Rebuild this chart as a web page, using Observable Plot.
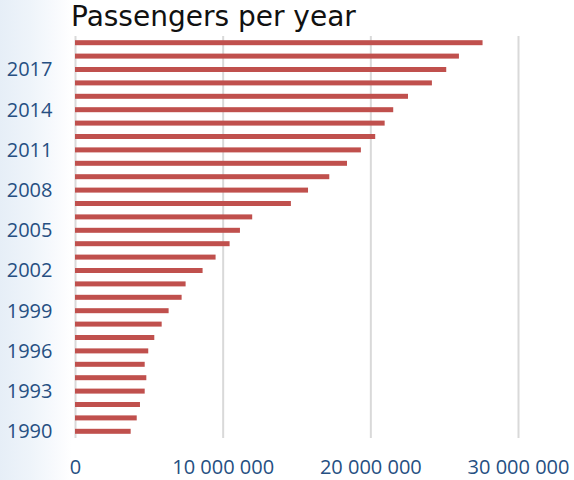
<!DOCTYPE html>
<html><head><meta charset="utf-8">
<script src="https://cdn.jsdelivr.net/npm/d3@7"></script>
<script src="https://cdn.jsdelivr.net/npm/@observablehq/plot@0.6"></script>
<style>
html,body{margin:0;padding:0;width:574px;height:480px;overflow:hidden;
background:linear-gradient(to right,#e6eef7 0px,#eef4fa 30px,#f8fafd 55px,#ffffff 72px);}
#title{height:36px;font-family:"DejaVu Sans",sans-serif;font-size:28px;line-height:33px;padding-left:71px;color:#111;white-space:nowrap;}
#chart svg{display:block;background:transparent;overflow:visible;}
</style></head>
<body>
<div id="title">Passengers per year</div>
<div id="chart"></div>
<script>
const years = [1990,1991,1992,1993,1994,1995,1996,1997,1998,1999,2000,2001,2002,2003,2004,2005,2006,2007,2008,2009,2010,2011,2012,2013,2014,2015,2016,2017,2018,2019];
const passengers = [3.77e6,4.18e6,4.40e6,4.72e6,4.83e6,4.72e6,4.96e6,5.37e6,5.87e6,6.34e6,7.22e6,7.49e6,8.64e6,9.52e6,10.47e6,11.17e6,12.0e6,14.62e6,15.78e6,17.22e6,18.42e6,19.36e6,20.33e6,20.97e6,21.55e6,22.55e6,24.17e6,25.14e6,26.0e6,27.6e6];
const yearLabels = [1990,1993,1996,1999,2002,2005,2008,2011,2014,2017];
const xTicks = [0,10000000,20000000,30000000];

const data = years.map((y,i)=>({year:y, value:passengers[i]}));
const fmt = d => d3.format(",")(d).replace(/,/g," ");

const chart = Plot.plot({
  width:574, height:444,
  marginTop:0, marginBottom:42, marginLeft:75, marginRight:56,
  style:{fontFamily:"'Open Sans',sans-serif", fontSize:"20px", color:"#264f82", background:"transparent", overflow:"visible"},
  x:{domain:[0,30000000]},
  y:{domain:years.slice().reverse(), padding:0, round:false},
  marks:[
    Plot.gridX(xTicks,{stroke:"#d9d9d9", strokeOpacity:1, strokeWidth:2}),
    Plot.barX(data,{y:"year", x:"value", fill:"#c0504d", insetTop:4.2, insetBottom:4.2}),
    Plot.axisX({ticks:xTicks, tickSize:0, tickPadding:21, tickFormat:fmt, label:null}),
    Plot.axisY({ticks:yearLabels, tickSize:0, tickPadding:23, tickFormat:d=>String(d), label:null})
  ]
});
document.getElementById("chart").appendChild(chart);
</script>
</body></html>
